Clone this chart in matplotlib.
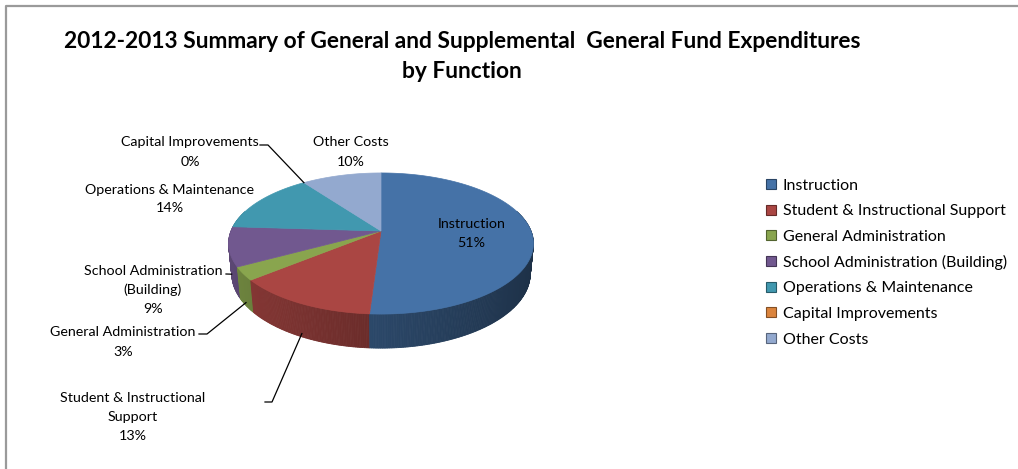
import numpy as np
import matplotlib
matplotlib.use("Agg")
import matplotlib.pyplot as plt
from matplotlib.patches import Polygon, Rectangle

plt.rcParams["font.family"] = ["Lato", "DejaVu Sans"]

# ==============================
# Data
# ==============================
categories = ["Instruction", "Student & Instructional Support", "General Administration",
              "School Administration (Building)", "Operations & Maintenance",
              "Capital Improvements", "Other Costs"]
shares = [51, 13, 3, 9, 14, 0, 10]
colors = ["#4572A7", "#AA4643", "#89A54E", "#71588F", "#4198AF", "#DB843D", "#93A9CF"]

# label text as shown on the chart (line breaks as in the original)
label_names = ["Instruction", "Student & Instructional\nSupport", "General Administration",
               "School Administration\n(Building)", "Operations & Maintenance",
               "Capital Improvements", "Other Costs"]

title_lines = ["2012-2013 Summary of General and Supplemental  General Fund Expenditures",
               "by Function"]

# ==============================
# Layout (pixels)
# ==============================
W, H = 1018, 469
CX, CY = 381, 231          # pie apex on screen
ALPHA = np.radians(27.1)   # camera elevation
DIST = 5.02                # camera distance (pie radius = 1)
FOC = 753                  # focal length, px
THICK = 0.228              # pie thickness
LINE_GAP = 19              # px between label lines

# outside label block centres and leader start
label_pos = {1: (133, 417), 2: (123, 342), 3: (153, 290), 4: (170, 199),
             5: (190, 152), 6: (351, 152)}
leader_start = {1: [(265, 402), (272, 402)], 2: [(199, 334), (207, 334)],
                3: [(226, 274)], 5: [(260, 145), (268, 145)]}

S, C = np.sin(ALPHA), np.cos(ALPHA)


def proj(phi, r, z):
    """phi clockwise from the back of the pie, r radius, z height."""
    x = r * np.sin(phi)
    y = r * np.cos(phi)
    yc = y * S + z * C
    zc = DIST + y * C - z * S
    return CX + FOC * x / zc, CY - FOC * yc / zc


def shade(col, k):
    rgb = np.array(matplotlib.colors.to_rgb(col))
    return tuple(np.clip(rgb * k, 0, 1))


def block_text(ax, x, y, txt, gap=LINE_GAP, **kw):
    lines = txt.split("\n")
    y0 = y - gap * (len(lines) - 1) / 2
    for j, ln in enumerate(lines):
        ax.text(x, y0 + j * gap, ln, ha="center", va="center", **kw)


fig = plt.figure(figsize=(W / 100, H / 100), dpi=100)
ax = fig.add_axes([0, 0, 1, 1])
ax.set_xlim(0, W)
ax.set_ylim(H, 0)
ax.axis("off")

frac = np.array(shares, dtype=float) / sum(shares)
edges = np.concatenate([[0], np.cumsum(frac)]) * 2 * np.pi

# ---- side walls (front facing part), lit from the left ----
quads = []
for i in range(len(shares)):
    a0, a1 = edges[i], edges[i + 1]
    if a1 - a0 < 1e-4:
        continue
    n = max(2, int((a1 - a0) / 0.01))
    ph = np.linspace(a0, a1, n + 1)
    for p0, p1 in zip(ph[:-1], ph[1:]):
        pm = 0.5 * (p0 + p1)
        if np.cos(pm) > 0.3:
            continue
        pts = [proj(p0, 1, 0), proj(p1, 1, 0), proj(p1, 1, -THICK), proj(p0, 1, -THICK)]
        k = 0.62 - 0.2 * np.sin(pm)
        quads.append((np.cos(pm), pts, shade(colors[i], k)))
quads.sort(key=lambda q: -q[0])
for _, pts, col in quads:
    ax.add_patch(Polygon(pts, closed=True, facecolor=col, edgecolor=col, lw=0.6))

# ---- top faces ----
for i in range(len(shares)):
    a0, a1 = edges[i], edges[i + 1]
    if a1 - a0 < 1e-4:
        continue
    ph = np.linspace(a0, a1, max(3, int((a1 - a0) / 0.01)))
    pts = [proj(0, 0, 0)] + [proj(p, 1, 0) for p in ph]
    ax.add_patch(Polygon(pts, closed=True, facecolor=colors[i], edgecolor=colors[i], lw=0.5))

# ---- labels ----
for i in range(len(shares)):
    txt = f"{label_names[i]}\n{round(shares[i])}%"
    mid = 0.5 * (edges[i] + edges[i + 1])
    if i == 0:
        x, y = proj(mid, 0.6, 0)
        block_text(ax, x, y + 1, txt, fontsize=10.3)
        continue
    x, y = label_pos[i]
    block_text(ax, x, y, txt, fontsize=10.3)
    if i in leader_start:
        if np.cos(mid) < 0:
            ax_pt = proj(mid, 1, -THICK * 0.9)
        else:
            ax_pt = proj(mid, 1, 0)
        line = leader_start[i] + [ax_pt]
        ax.plot([p[0] for p in line], [p[1] for p in line], color="black", lw=0.9)

# ---- title ----
for j, ln in enumerate(title_lines):
    ax.text(462, 42 + j * 30, ln, fontsize=16.4, fontweight="bold", ha="center", va="center")

# ---- legend ----
for i, name in enumerate(categories):
    yy = 184 + i * 25.7
    ax.add_patch(Rectangle((766, yy - 5), 10, 10, facecolor=colors[i],
                           edgecolor=shade(colors[i], 0.6), lw=0.8))
    ax.text(783, yy + 1.5, name, fontsize=11.5, ha="left", va="center")

# ---- chart frame ----
ax.plot([6.5, 6.5, W], [H, 6.5, 6.5], color="#9A9A9A", lw=1.6)

fig.savefig("out.png", dpi=100)
